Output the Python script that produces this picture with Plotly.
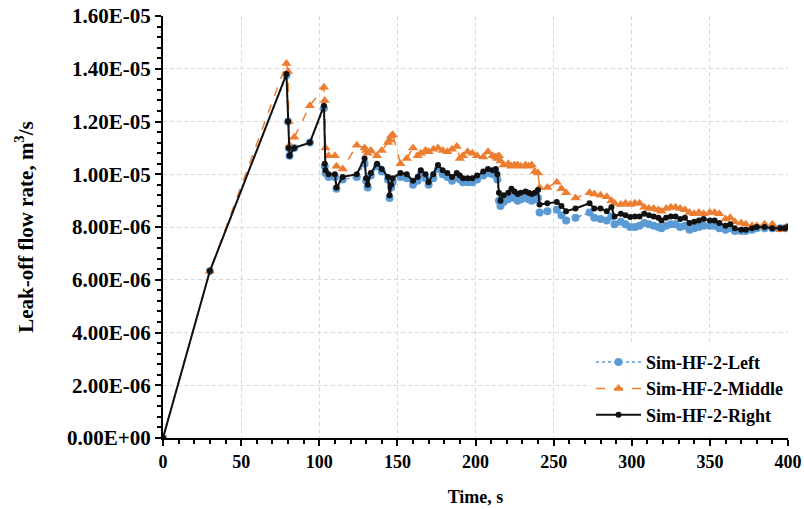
import plotly.graph_objects as go

# Time (s) shared by all three simulated sides
time_s = [0, 30, 79, 80, 80.5, 81, 84, 94, 103, 103.5, 104, 106, 110, 111, 115, 124, 129, 130, 131,
          133, 137, 140, 144, 145, 146, 147, 152, 156, 160, 163, 165, 168, 170, 173, 176, 179, 182,
          185, 188, 190, 192, 195, 198, 201, 205, 208, 211, 213, 214, 215, 216, 218, 221, 223, 225,
          227, 229, 232, 234, 236, 238, 240, 241, 246, 252, 255, 258, 264, 273, 276, 280, 284, 287,
          289, 293, 296, 299, 302, 305, 308, 311, 314, 317, 319, 322, 325, 328, 331, 334, 337, 340,
          343, 346, 350, 353, 356, 360, 363, 366, 370, 373, 377, 380, 385, 390, 395, 398, 400]

# Leak-off flow rate, in units of 1e-6 m3/s
left_e6 = [0, 6.33, 13.75, 12.0, 11.0, 10.7, 11.0, 11.2, 12.5, 10.3, 10.05, 9.9, 9.9, 9.45, 9.8, 9.9,
           10.4, 9.75, 9.5, 9.95, 10.3, 10.1, 9.8, 9.1, 9.5, 9.7, 9.9, 9.85, 9.6, 9.75, 10.0, 9.85,
           9.6, 9.85, 10.2, 10.0, 9.9, 9.75, 9.9, 9.8, 9.7, 9.7, 9.7, 9.8, 9.95, 10.05, 10.0, 10.05,
           9.8, 9.0, 8.8, 8.95, 9.05, 9.2, 9.1, 9.0, 9.05, 9.1, 9.05, 9.0, 9.05, 9.1, 8.55, 8.6, 8.65,
           8.45, 8.25, 8.35, 8.55, 8.35, 8.3, 8.25, 8.4, 8.1, 8.2, 8.1, 8.0, 8.0, 8.05, 8.15, 8.1,
           8.05, 8.0, 7.95, 8.05, 8.1, 8.1, 8.0, 8.05, 7.9, 7.95, 8.0, 8.05, 8.05, 8.05, 7.95, 7.9,
           7.95, 7.85, 7.85, 7.85, 7.9, 7.95, 7.95, 7.95, 7.95, 7.95, 8.0]

middle_e6 = [0, 6.33, 14.2, 13.9, 12.0, 11.1, 11.4, 12.6, 13.3, 12.8, 11.0, 10.7, 10.7, 10.3, 10.2,
             11.1, 11.0, 10.9, 10.8, 10.9, 10.7, 10.9, 11.2, 11.3, 11.45, 11.5, 10.4, 10.6, 11.0,
             10.7, 10.8, 10.9, 10.85, 10.95, 11.0, 10.9, 10.85, 10.95, 11.05, 10.6, 10.7, 10.85,
             10.8, 10.7, 10.65, 10.85, 10.7, 10.65, 10.6, 10.7, 10.5, 10.35, 10.4, 10.3, 10.35,
             10.35, 10.3, 10.35, 10.3, 10.35, 10.1, 10.05, 9.5, 9.5, 9.7, 9.45, 9.3, 9.1, 9.3, 9.25,
             9.2, 9.15, 9.0, 8.9, 8.85, 8.9, 8.85, 8.9, 8.9, 8.75, 8.7, 8.7, 8.65, 8.6, 8.7, 8.75,
             8.75, 8.7, 8.65, 8.55, 8.5, 8.55, 8.5, 8.55, 8.55, 8.5, 8.3, 8.35, 8.2, 8.15, 8.1,
             8.05, 8.05, 8.1, 8.1, 7.9, 7.95, 8.0]

right_e6 = [0, 6.33, 13.8, 12.0, 11.0, 10.7, 11.0, 11.2, 12.6, 10.4, 10.15, 10.0, 10.0, 9.5, 9.9,
            10.0, 10.6, 9.85, 9.6, 10.05, 10.4, 10.2, 9.9, 9.2, 9.6, 9.85, 10.05, 10.0, 9.75, 9.9,
            10.15, 10.0, 9.7, 10.0, 10.35, 10.15, 10.05, 9.9, 10.05, 9.95, 9.85, 9.85, 9.85, 9.95,
            10.1, 10.2, 10.15, 10.2, 10.0, 9.3, 9.0, 9.2, 9.3, 9.45, 9.35, 9.25, 9.3, 9.35, 9.3,
            9.25, 9.3, 9.4, 8.85, 8.9, 8.95, 8.8, 8.6, 8.7, 8.9, 8.7, 8.7, 8.6, 8.75, 8.4, 8.5,
            8.45, 8.38, 8.4, 8.4, 8.5, 8.45, 8.4, 8.35, 8.25, 8.35, 8.4, 8.4, 8.3, 8.35, 8.15, 8.2,
            8.25, 8.3, 8.25, 8.25, 8.15, 8.05, 8.1, 7.95, 7.9, 7.9, 7.95, 8.0, 8.0, 7.95, 7.95,
            7.95, 8.0]

y_tick_vals = [0, 2e-6, 4e-6, 6e-6, 8e-6, 1e-5, 1.2e-5, 1.4e-5, 1.6e-5]
y_tick_text = ["0.00E+00", "2.00E-06", "4.00E-06", "6.00E-06", "8.00E-06",
               "1.00E-05", "1.20E-05", "1.40E-05", "1.60E-05"]

serif = "Times New Roman, Liberation Serif, serif"


def scaled(vals):
    return [v * 1e-6 for v in vals]


fig = go.Figure()
fig.add_trace(go.Scatter(
    x=time_s, y=scaled(left_e6), name="Sim-HF-2-Left", mode="lines+markers",
    line=dict(color="#5B9BD5", width=1.5, dash="dot"),
    marker=dict(symbol="circle", size=8, color="#5B9BD5"),
))
fig.add_trace(go.Scatter(
    x=time_s, y=scaled(middle_e6), name="Sim-HF-2-Middle", mode="lines+markers",
    line=dict(color="#ED7D31", width=1.5, dash="dash"),
    marker=dict(symbol="triangle-up", size=9, color="#ED7D31"),
))
fig.add_trace(go.Scatter(
    x=time_s, y=scaled(right_e6), name="Sim-HF-2-Right", mode="lines+markers",
    line=dict(color="#111111", width=2),
    marker=dict(symbol="circle", size=6, color="#111111"),
))

fig.update_layout(
    width=804, height=509,
    margin=dict(l=163, r=16, t=16, b=71, autoexpand=False),
    paper_bgcolor="white", plot_bgcolor="white",
    font=dict(family=serif, color="black"),
    showlegend=True,
    legend=dict(
        x=1.0, xanchor="right", y=0.01, yanchor="bottom",
        bgcolor="rgba(255,255,255,0.9)",
        font=dict(family=serif, size=18, weight="bold", color="black"),
        itemwidth=45, tracegroupgap=0,
    ),
    xaxis=dict(
        range=[0, 400], dtick=50, tick0=0, automargin=False,
        showline=True, linecolor="black", linewidth=2,
        ticks="outside", ticklen=6, tickwidth=2, tickcolor="black",
        minor=dict(dtick=10, ticks="outside", ticklen=4, tickwidth=1.5, tickcolor="black", showgrid=False),
        showgrid=True, gridcolor="#D9D9D9", gridwidth=1, griddash="4px,3px",
        zeroline=False,
        tickfont=dict(family=serif, size=18, weight="bold"),
        title=dict(text="Time, s", font=dict(family=serif, size=18, weight="bold"), standoff=20),
    ),
    yaxis=dict(
        range=[0, 1.6e-5], tickvals=y_tick_vals, ticktext=y_tick_text, automargin=False,
        showline=True, linecolor="black", linewidth=2,
        ticks="outside", ticklen=6, tickwidth=2, tickcolor="black",
        minor=dict(dtick=4e-7, ticks="outside", ticklen=4, tickwidth=1.5, tickcolor="black", showgrid=False),
        showgrid=True, gridcolor="#D9D9D9", gridwidth=1, griddash="4px,3px",
        zeroline=False,
        tickfont=dict(family=serif, size=21, weight="bold"),
        title=dict(text="Leak-off flow rate, m<sup>3</sup>/s",
                   font=dict(family=serif, size=21, weight="bold"), standoff=28),
    ),
)

fig.write_html("out.html")
